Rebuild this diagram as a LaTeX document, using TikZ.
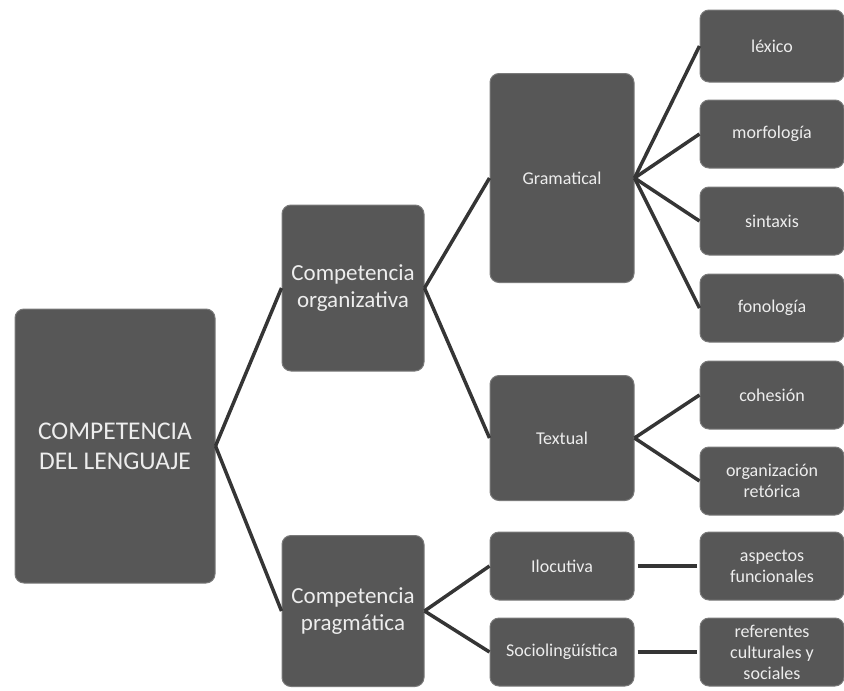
\documentclass[tikz,border=0pt]{standalone}
\usepackage{fontspec}
\setmainfont{Carlito}
\usepackage{xcolor}
\usepackage{tikz}
\usetikzlibrary{arrows.meta,positioning}
\definecolor{boxgray}{HTML}{575757}
\definecolor{edgegray}{HTML}{7A7A7A}
\definecolor{linegray}{HTML}{353535}
\definecolor{textgray}{HTML}{EDEDED}

\begin{document}
\begin{tikzpicture}[
  x=1pt, y=-1pt,
  box/.style={rectangle, rounded corners=9pt, draw=edgegray, line width=1pt, fill=boxgray, text=textgray, align=center, minimum width=144pt, inner sep=2pt},
  rootbox/.style={box, minimum width=200pt, minimum height=274pt, font=\fontsize{25.5}{30}\selectfont},
  midbox/.style={box, minimum width=142pt, font=\fontsize{23}{27}\selectfont},
  smallbox/.style={box, minimum height=68pt, font=\fontsize{18}{21}\selectfont},
  link/.style={line width=3.5pt, draw=linegray}
]
\useasboundingbox (0,0) rectangle (844,691);

\node[rootbox] (lang) at (115,446) {COMPETENCIA\\DEL LENGUAJE};

\node[midbox, minimum height=166pt] (orga) at (353,288) {Competencia\\organizativa};
\node[midbox, minimum height=151pt] (prag) at (353,611) {Competencia\\pragmática};

\node[smallbox, minimum height=209pt] (gram) at (562,178) {Gramatical};
\node[smallbox, minimum height=125pt] (text) at (562,438) {Textual};
\node[smallbox] (iloc) at (562,566) {Ilocutiva};
\node[smallbox] (socio) at (562,652) {Sociolingüística};

\node[smallbox, minimum height=72pt] (lex) at (772,46) {léxico};
\node[smallbox] (morf) at (772,134) {morfología};
\node[smallbox] (sint) at (772,221) {sintaxis};
\node[smallbox] (fono) at (772,308) {fonología};
\node[smallbox] (cohe) at (772,395) {cohesión};
\node[smallbox] (orgret) at (772,481) {organización\\retórica};
\node[smallbox] (func) at (772,566) {aspectos\\funcionales};
\node[smallbox] (refer) at (772,652) {referentes\\culturales y\\sociales};

\draw[link] (lang.east) -- (orga.west);
\draw[link] (lang.east) -- (prag.west);
\draw[link] (orga.east) -- (gram.west);
\draw[link] (orga.east) -- (text.west);
\draw[link] (prag.east) -- (iloc.west);
\draw[link] (prag.east) -- (socio.west);
\draw[link] (gram.east) -- (lex.west);
\draw[link] (gram.east) -- (morf.west);
\draw[link] (gram.east) -- (sint.west);
\draw[link] (gram.east) -- (fono.west);
\draw[link] (text.east) -- (cohe.west);
\draw[link] (text.east) -- (orgret.west);
\draw[link, shorten <=3pt, shorten >=3pt] (iloc) -- (func);
\draw[link, shorten <=3pt, shorten >=3pt] (socio) -- (refer);

\end{tikzpicture}
\end{document}
